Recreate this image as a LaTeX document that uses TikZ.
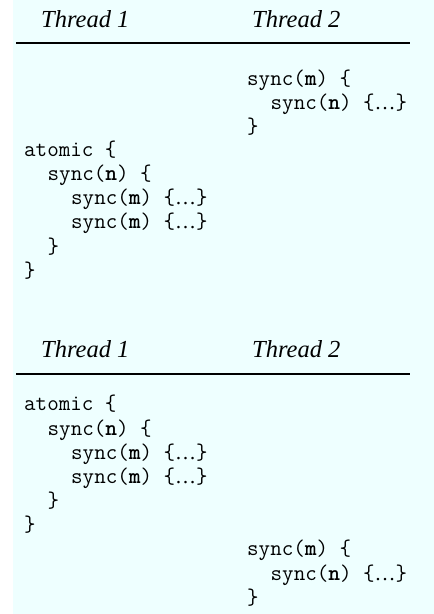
\documentclass[tikz,border=0pt]{standalone}
\usepackage{fontspec}
\setmainfont{Liberation Serif}
\usetikzlibrary{positioning}

\definecolor{panelbg}{RGB}{238,255,255}
\newcommand{\codefont}{\ttfamily\fontsize{22.4}{23.75}\selectfont}
\newcommand{\headfont}{\rmfamily\itshape\fontsize{24.5}{28}\selectfont}
\newcommand{\elided}{{\rmfamily\fontsize{21}{23.75}\selectfont\char"2026}}

\begin{document}
\begin{tikzpicture}[x=1pt, y=-1pt,
  code/.style={font=\codefont, inner sep=0pt, text height=16.75pt, text depth=7pt, anchor=north west},
  head/.style={font=\headfont, inner sep=0pt, anchor=base west},
  rule/.style={line width=1.3pt}]

\useasboundingbox (0,0) rectangle (434,614);
\fill[panelbg] (13,0) rectangle (434,614);

% first ordering
\node[head] (h1a) at (41,27.5) {Thread 1};
\node[head] (h1b) at (252,27.5) {Thread 2};
\coordinate (r1a) at (16,43);
\coordinate (r1b) at (410,43);
\draw[rule] (r1a) -- (r1b);

\node[code] (s1) at (247,68.25) {sync(\textbf{m}) \{};
\node[code] (s2) at ([xshift=23.5pt]s1.south west) {sync(\textbf{n}) \{\elided\}};
\node[code] (s3) at ([xshift=-23.5pt]s2.south west) {\}};

\node[code] (a1) at (24,139.5) {atomic \{};
\node[code] (a2) at ([xshift=23.5pt]a1.south west) {sync(\textbf{n}) \{};
\node[code] (a3) at ([xshift=23.5pt]a2.south west) {sync(\textbf{m}) \{\elided\}};
\node[code] (a4) at (a3.south west) {sync(\textbf{m}) \{\elided\}};
\node[code] (a5) at ([xshift=-23.5pt]a4.south west) {\}};
\node[code] (a6) at ([xshift=-23.5pt]a5.south west) {\}};

% second ordering
\node[head] (h2a) at (41,357) {Thread 1};
\node[head] (h2b) at (252,357) {Thread 2};
\coordinate (r2a) at (16,374);
\coordinate (r2b) at (410,374);
\draw[rule] (r2a) -- (r2b);

\node[code] (b1) at (24,394) {atomic \{};
\node[code] (b2) at ([xshift=23.5pt]b1.south west) {sync(\textbf{n}) \{};
\node[code] (b3) at ([xshift=23.5pt]b2.south west) {sync(\textbf{m}) \{\elided\}};
\node[code] (b4) at (b3.south west) {sync(\textbf{m}) \{\elided\}};
\node[code] (b5) at ([xshift=-23.5pt]b4.south west) {\}};
\node[code] (b6) at ([xshift=-23.5pt]b5.south west) {\}};

\node[code] (t1) at (b6.south -| s1.west) {sync(\textbf{m}) \{};
\node[code] (t2) at ([xshift=23.5pt]t1.south west) {sync(\textbf{n}) \{\elided\}};
\node[code] (t3) at ([xshift=-23.5pt]t2.south west) {\}};

\end{tikzpicture}
\end{document}
